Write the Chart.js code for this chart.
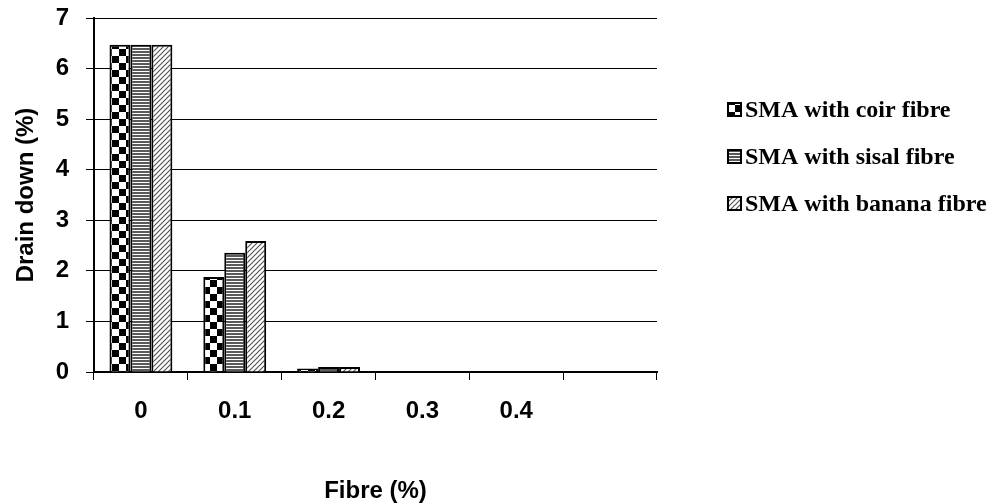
<!DOCTYPE html>
<html lang="en">
<head>
  <meta charset="UTF-8">
  <title>Drain down vs fibre content</title>
  <script src="https://cdn.jsdelivr.net/npm/chart.js"></script>
  <style>
    html, body {
      margin: 0;
      padding: 0;
      background: #fff;
    }
    #chart {
      display: block;
    }
  </style>
</head>
<body>
  <canvas id="chart" width="992" height="503"></canvas>

  <script>
    // fibre content (%) and drain down (%) for each fibre type
    const fibreLabels = ['0', '0.1', '0.2', '0.3', '0.4', ''];
    const coirDrain = [6.47, 1.88, 0.07, 0, 0, null];
    const sisalDrain = [6.47, 2.36, 0.10, 0.01, 0, null];
    const bananaDrain = [6.47, 2.59, 0.10, 0.01, 0.01, null];
    const seriesNames = ['SMA with coir fibre', 'SMA with sisal fibre', 'SMA with banana fibre'];
    const yTicks = [0, 1, 2, 3, 4, 5, 6, 7];

    const axisFont = { family: 'Liberation Sans, Arial, sans-serif', size: 24, weight: 'bold', lineHeight: 1 };

    function makeTile(w, h, paint) {
      let c = document.createElement('canvas');
      c.width = w;
      c.height = h;
      let g = c.getContext('2d');
      g.fillStyle = '#fff';
      g.fillRect(0, 0, w, h);
      paint(g);
      return document.getElementById('chart').getContext('2d').createPattern(c, 'repeat');
    }

    // checkerboard
    let coirFill = makeTile(14, 14, g => {
      g.fillStyle = '#000';
      g.fillRect(0, 0, 7, 7);
      g.fillRect(7, 7, 7, 7);
    });

    // horizontal stripes
    let sisalFill = makeTile(4, 3, g => {
      g.fillStyle = '#5a5a5a';
      g.fillRect(0, 0, 4, 2);
    });

    // thin forward diagonals
    let bananaFill = makeTile(5, 5, g => {
      g.strokeStyle = '#555';
      g.lineWidth = 1.2;
      g.beginPath();
      g.moveTo(-1, 6);
      g.lineTo(6, -1);
      g.moveTo(-1, 1);
      g.lineTo(1, -1);
      g.moveTo(4, 6);
      g.lineTo(6, 4);
      g.stroke();
    });

    const fills = [coirFill, sisalFill, bananaFill];

    function edgeColor(ctx) {
      let v = ctx.raw;
      return (v !== null && v < 0.03) ? '#aaa' : '#000';
    }
    function edgeWidth(ctx) {
      let v = ctx.raw;
      return (v !== null && v < 0.03) ? 1 : 2;
    }

    function series(i, data) {
      return {
        label: seriesNames[i],
        data: data,
        backgroundColor: fills[i],
        borderColor: edgeColor,
        borderWidth: edgeWidth,
        borderSkipped: 'bottom',
        barPercentage: 1,
        categoryPercentage: 0.67
      };
    }

    // legend drawn by hand to the right of the plot
    const sideLegend = {
      id: 'sideLegend',
      afterDraw(chart) {
        let ctx = chart.ctx;
        ctx.save();
        ctx.font = 'bold 24px "Liberation Serif", "Times New Roman", serif';
        ctx.textBaseline = 'middle';
        ctx.textAlign = 'left';
        chart.data.datasets.forEach((ds, i) => {
          let cy = 110 + i * 47;
          ctx.fillStyle = fills[i];
          ctx.fillRect(728, cy - 7, 13, 13);
          ctx.strokeStyle = '#000';
          ctx.lineWidth = 2;
          ctx.strokeRect(728, cy - 7, 13, 13);
          ctx.fillStyle = '#000';
          ctx.fillText(ds.label, 745, cy + 1);
        });
        ctx.restore();
      }
    };

    let chart = new Chart(document.getElementById('chart'), {
      type: 'bar',
      data: {
        labels: fibreLabels,
        datasets: [
          series(0, coirDrain),
          series(1, sisalDrain),
          series(2, bananaDrain)
        ]
      },
      options: {
        responsive: false,
        animation: false,
        devicePixelRatio: 1,
        layout: {
          padding: { top: 18, right: 335, left: 0, bottom: 0 }
        },
        plugins: {
          legend: { display: false },
          tooltip: { enabled: false }
        },
        scales: {
          x: {
            grid: {
              offset: true,
              drawOnChartArea: false,
              drawTicks: true,
              tickLength: 8,
              color: '#000',
              lineWidth: 1
            },
            border: { color: '#000', width: 2 },
            ticks: {
              color: '#000',
              font: axisFont,
              padding: 19,
              maxRotation: 0
            },
            title: {
              display: true,
              text: 'Fibre (%)',
              color: '#000',
              font: axisFont,
              padding: { top: 0, bottom: 0 }
            },
            afterFit(scale) {
              scale.height = 131;
            }
          },
          y: {
            min: 0,
            max: 7,
            afterBuildTicks(scale) {
              scale.ticks = yTicks.map(v => ({ value: v }));
            },
            grid: {
              color: '#000',
              lineWidth: 1,
              drawTicks: true,
              tickLength: 8
            },
            border: { color: '#000', width: 2 },
            ticks: {
              color: '#000',
              font: axisFont,
              padding: 17
            },
            title: {
              display: true,
              text: 'Drain down (%)',
              color: '#000',
              font: axisFont,
              padding: { top: 14, bottom: 0 }
            },
            afterFit(scale) {
              scale.width = 94;
              scale.paddingTop = 0;
              scale.paddingBottom = 0;
            }
          }
        }
      },
      plugins: [sideLegend]
    });
  </script>
</body>
</html>
